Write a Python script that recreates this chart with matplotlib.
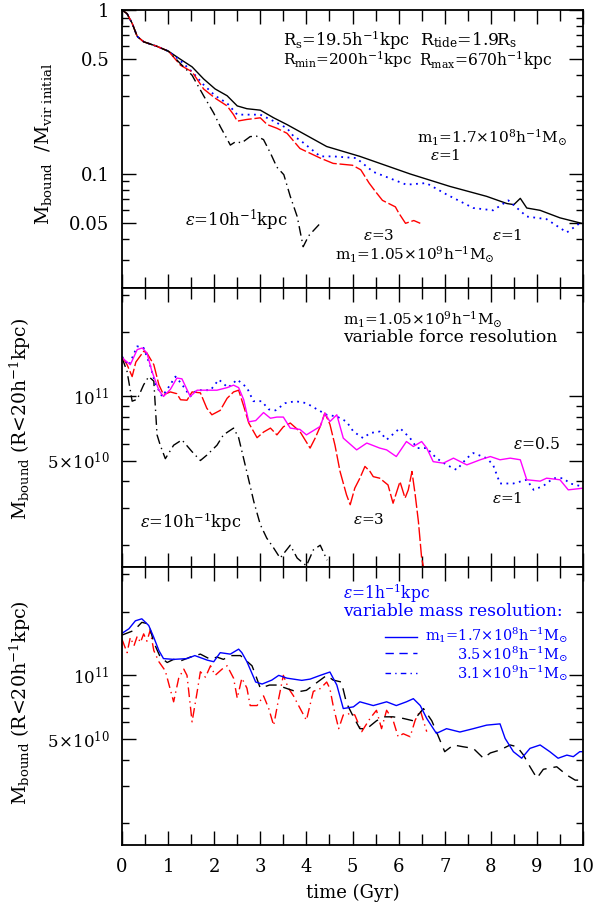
import numpy as np
import matplotlib
matplotlib.use('Agg')
import matplotlib.pyplot as plt
from matplotlib.ticker import FixedLocator, FixedFormatter, NullFormatter

plt.rcParams['font.family'] = ['DejaVu Serif']
plt.rcParams['mathtext.fontset'] = 'dejavuserif'

# ---------------- top panel: M_bound / M_vir initial ----------------
top_solid_t = [0, 0.11, 0.22, 0.33, 0.47, 0.76, 1.01, 1.27, 1.52, 1.77, 2.02, 2.28, 2.5, 2.71, 3.0,
               3.29, 3.58, 3.86, 4.44, 5.16, 6.25, 7.11, 7.91, 8.35, 8.5, 8.64, 8.78, 9.07, 9.5, 9.97]
top_solid_v = [1.0, 0.95, 0.83, 0.69, 0.64, 0.60, 0.56, 0.50, 0.45, 0.38, 0.33, 0.30, 0.26, 0.25, 0.245,
               0.22, 0.20, 0.181, 0.147, 0.128, 0.10, 0.084, 0.073, 0.066, 0.065, 0.071, 0.062, 0.06, 0.054, 0.05]

top_dot_t = [0, 0.11, 0.22, 0.33, 0.47, 0.76, 1.01, 1.27, 1.52, 1.77, 2.02, 2.28, 2.5, 2.71, 3.0, 3.29,
             3.58, 3.72, 3.86, 4.3, 4.58, 5.08, 5.45, 6.17, 6.6, 7.04, 7.62, 8.05, 8.38, 8.78, 9.21, 9.65, 9.97]
top_dot_v = [1.0, 0.95, 0.83, 0.69, 0.64, 0.60, 0.56, 0.49, 0.42, 0.35, 0.30, 0.27, 0.23, 0.23, 0.23, 0.21,
             0.19, 0.17, 0.161, 0.128, 0.128, 0.125, 0.103, 0.086, 0.088, 0.075, 0.062, 0.06, 0.069, 0.055, 0.053, 0.044, 0.051]

top_red_t = [0, 0.11, 0.22, 0.33, 0.47, 0.76, 1.01, 1.27, 1.52, 1.77, 2.02, 2.28, 2.42, 2.5, 2.71, 3.0,
             3.15, 3.36, 3.58, 3.86, 4.3, 4.58, 5.0, 5.18, 5.36, 5.5, 5.65, 5.93, 6.0, 6.15, 6.33, 6.47]
top_red_v = [1.0, 0.95, 0.83, 0.69, 0.64, 0.60, 0.56, 0.46, 0.42, 0.33, 0.29, 0.26, 0.23, 0.21, 0.215, 0.22,
             0.20, 0.19, 0.177, 0.143, 0.125, 0.116, 0.113, 0.106, 0.088, 0.078, 0.069, 0.063, 0.058, 0.05, 0.052, 0.05]

top_dd_t = [0, 0.11, 0.22, 0.33, 0.47, 0.76, 1.01, 1.27, 1.52, 1.77, 1.99, 2.13, 2.35, 2.46, 2.6, 2.78,
            2.92, 3.07, 3.22, 3.36, 3.51, 3.65, 3.8, 3.93, 4.05, 4.3]
top_dd_v = [1.0, 0.95, 0.83, 0.69, 0.64, 0.60, 0.56, 0.47, 0.40, 0.30, 0.235, 0.195, 0.15, 0.157, 0.155, 0.169,
            0.17, 0.162, 0.134, 0.11, 0.099, 0.073, 0.055, 0.036, 0.042, 0.05]

# ---------------- middle panel (units of 1e11) ----------------
mid_dd_t = [0, 0.11, 0.22, 0.33, 0.47, 0.58, 0.69, 0.76, 0.83, 0.94, 1.12, 1.3, 1.52, 1.7, 1.84, 2.06,
            2.2, 2.42, 2.53, 2.71, 2.86, 3.0, 3.14, 3.29, 3.43, 3.65, 3.8, 4.0, 4.15, 4.3, 4.45]
mid_dd_v = [1.52, 1.31, 0.95, 0.97, 1.135, 1.24, 1.18, 0.66, 0.59, 0.51, 0.59, 0.625, 0.55, 0.50, 0.53, 0.59,
            0.66, 0.71, 0.64, 0.44, 0.32, 0.25, 0.216, 0.194, 0.174, 0.20, 0.174, 0.16, 0.19, 0.2, 0.17]

mid_red_t = [0, 0.11, 0.22, 0.3, 0.47, 0.54, 0.69, 0.8, 0.9, 1.05, 1.19, 1.27, 1.41, 1.52, 1.7, 1.84, 1.95,
             2.13, 2.28, 2.42, 2.53, 2.64, 2.75, 2.93, 3.07, 3.22, 3.36, 3.5, 3.65, 3.86, 4.08, 4.19, 4.3,
             4.4, 4.51, 4.62, 4.73, 4.87, 4.95, 5.05, 5.16, 5.27, 5.38, 5.45, 5.59, 5.77, 5.88, 6.03, 6.14,
             6.21, 6.29, 6.36, 6.43, 6.5, 6.56]
mid_red_v = [1.54, 1.41, 1.24, 1.45, 1.63, 1.6, 1.41, 1.135, 1.02, 1.05, 1.03, 0.965, 0.96, 1.05, 1.04, 0.88, 0.82,
             0.86, 0.98, 1.05, 1.07, 0.9, 0.75, 0.64, 0.68, 0.71, 0.66, 0.72, 0.75, 0.684, 0.572, 0.637, 0.723,
             0.835, 0.74, 0.59, 0.444, 0.345, 0.31, 0.371, 0.413, 0.469, 0.444, 0.42, 0.413, 0.384, 0.315, 0.398, 0.333,
             0.364, 0.444, 0.345, 0.258, 0.174, 0.15]

mid_mag_t = [0, 0.18, 0.33, 0.44, 0.54, 0.65, 0.8, 0.9, 1.05, 1.19, 1.3, 1.48, 1.63, 1.84, 2.06, 2.28, 2.42,
             2.53, 2.64, 2.75, 2.9, 3.07, 3.22, 3.36, 3.5, 3.65, 3.86, 4.0, 4.3, 4.4, 4.51, 4.66, 4.8, 5.09,
             5.31, 5.59, 5.74, 5.95, 6.17, 6.32, 6.5, 6.61, 6.75, 6.97, 7.19, 7.48, 7.77, 7.99, 8.2, 8.42,
             8.64, 8.78, 9.07, 9.21, 9.5, 9.68, 9.97]
mid_mag_v = [1.52, 1.41, 1.66, 1.69, 1.6, 1.31, 1.07, 1.0, 1.08, 1.22, 1.21, 1.0, 1.07, 1.07, 1.07, 1.1, 1.13,
             1.1, 0.965, 0.76, 0.77, 0.84, 0.79, 0.80, 0.80, 0.71, 0.70, 0.66, 0.723, 0.835, 0.762, 0.82, 0.637, 0.561,
             0.604, 0.572, 0.561, 0.522, 0.614, 0.582, 0.614, 0.572, 0.494, 0.486, 0.513, 0.477, 0.504, 0.522, 0.504, 0.513,
             0.504, 0.406, 0.40, 0.413, 0.406, 0.364, 0.37]

mid_dot_t = [0, 0.15, 0.33, 0.47, 0.62, 0.72, 0.87, 0.98, 1.16, 1.3, 1.48, 1.62, 1.8, 1.92, 2.1, 2.3,
             2.5, 2.71, 2.85, 3.03, 3.18, 3.33, 3.54, 3.76, 4.0, 4.23, 4.44, 4.66, 4.87, 5.02,
             5.23, 5.38, 5.59, 5.74, 6.03, 6.25, 6.4, 6.61, 6.82, 7.04, 7.26, 7.48, 7.62, 7.91, 8.05, 8.2,
             8.49, 8.78, 8.93, 9.14, 9.36, 9.57, 9.72, 9.97]
mid_dot_v = [1.54, 1.4, 1.72, 1.69, 1.38, 1.15, 1.0, 1.08, 1.24, 1.14, 1.0, 1.07, 1.07, 1.07, 1.2, 1.1,
             1.2, 1.1, 0.95, 0.95, 0.87, 0.86, 0.93, 0.95, 0.93, 0.87, 0.82, 0.805, 0.762, 0.684,
             0.637, 0.673, 0.684, 0.626, 0.71, 0.637, 0.572, 0.572, 0.513, 0.477, 0.452, 0.513, 0.542, 0.513, 0.477, 0.39,
             0.39, 0.406, 0.364, 0.38, 0.413, 0.413, 0.39, 0.378]

# ---------------- bottom panel (units of 1e11) ----------------
bot_blue_t = [0, 0.15, 0.29, 0.43, 0.58, 0.69, 0.8, 0.9, 1.12, 1.41, 1.58, 1.85, 1.99, 2.13, 2.35, 2.53,
              2.6, 2.71, 2.9, 3.04, 3.25, 3.4, 3.58, 3.9, 4.08, 4.3, 4.51, 4.66, 4.8, 5.02, 5.16, 5.45,
              5.74, 5.95, 6.17, 6.32, 6.47, 6.61, 6.82, 7.04, 7.33, 7.62, 7.91, 8.2, 8.31, 8.49, 8.67, 8.85,
              9.07, 9.28, 9.46, 9.65, 9.79, 9.93, 10.0]
bot_blue_v = [1.58, 1.66, 1.81, 1.85, 1.72, 1.51, 1.31, 1.2, 1.19, 1.2, 1.24, 1.18, 1.16, 1.28, 1.26, 1.33,
              1.28, 1.16, 0.93, 0.91, 0.95, 1.0, 0.97, 0.947, 0.96, 1.0, 1.037, 0.9, 0.697, 0.71, 0.75, 0.72,
              0.75, 0.72, 0.75, 0.776, 0.72, 0.626, 0.532, 0.56, 0.54, 0.56, 0.582, 0.59, 0.504, 0.436, 0.406, 0.452,
              0.469, 0.436, 0.406, 0.42, 0.413, 0.436, 0.436]

bot_dash_t = [0, 0.26, 0.43, 0.58, 0.69, 0.83, 0.98, 1.12, 1.27, 1.48, 1.7, 1.92, 2.06, 2.2, 2.35, 2.57,
              2.82, 2.9, 3.0, 3.2, 3.36, 3.58, 3.8, 4.0, 4.3, 4.44, 4.58, 4.76, 4.87, 5.02, 5.16, 5.31,
              5.52, 5.67, 5.88, 6.1, 6.32, 6.54, 6.72, 6.82, 7.0, 7.19, 7.4, 7.62, 7.84, 7.99, 8.2, 8.42,
              8.57, 8.71, 8.85, 9.0, 9.14, 9.43, 9.65, 9.83, 10.0]
bot_dash_v = [1.55, 1.63, 1.78, 1.75, 1.43, 1.22, 1.15, 1.19, 1.17, 1.22, 1.26, 1.19, 1.22, 1.19, 1.24, 1.24,
              1.11, 1.0, 0.87, 0.9, 0.9, 0.866, 0.835, 0.85, 0.95, 1.0, 0.95, 0.93, 0.74, 0.637, 0.56, 0.56,
              0.61, 0.637, 0.637, 0.626, 0.61, 0.697, 0.61, 0.542, 0.436, 0.469, 0.46, 0.452, 0.406, 0.43, 0.444, 0.469,
              0.46, 0.42, 0.37, 0.327, 0.36, 0.37, 0.338, 0.32, 0.32]

bot_red_t = [0, 0.11, 0.18, 0.26, 0.33, 0.4, 0.47, 0.54, 0.61, 0.69, 0.8, 0.94, 1.01, 1.12, 1.23, 1.34,
             1.41, 1.52, 1.63, 1.7, 1.81, 1.92, 2.02, 2.17, 2.28, 2.42, 2.5, 2.6, 2.71, 2.78, 2.93, 3.07,
             3.18, 3.29, 3.4, 3.5, 3.61, 3.72, 3.83, 4.0, 4.15, 4.3, 4.44, 4.51, 4.58, 4.7, 4.8, 4.95,
             5.05, 5.2, 5.38, 5.52, 5.63, 5.74, 5.88, 5.99, 6.1, 6.25, 6.36, 6.47, 6.61]
bot_red_v = [1.48, 1.28, 1.51, 1.38, 1.53, 1.43, 1.57, 1.45, 1.63, 1.31, 1.16, 1.05, 0.92, 0.75, 0.97, 1.07,
             1.0, 0.603, 0.835, 1.04, 0.98, 1.11, 1.0, 1.07, 1.11, 0.97, 0.78, 0.97, 0.87, 0.72, 0.72, 0.8,
             0.7, 0.58, 0.78, 1.0, 0.87, 0.8, 0.72, 0.614, 0.84, 0.866, 0.93, 0.866, 0.72, 0.56, 0.65, 0.66,
             0.65, 0.542, 0.626, 0.684, 0.56, 0.684, 0.614, 0.513, 0.53, 0.513, 0.614, 0.684, 0.542]

x_ticks = [0, 1, 2, 3, 4, 5, 6, 7, 8, 9, 10]
top_major = [0.05, 0.1, 0.5, 1]
top_major_lbl = ['0.05', '0.1', '0.5', '1']
top_minor = [0.03, 0.04, 0.06, 0.07, 0.08, 0.09, 0.2, 0.3, 0.4, 0.6, 0.7, 0.8, 0.9]
mass_major = [5e10, 1e11]
mass_major_lbl = [r'$5\!\times\!10^{10}$', r'$10^{11}$']
mass_minor = [2e10, 3e10, 4e10, 6e10, 7e10, 8e10, 9e10, 2e11, 3e11]

SCALE = 1e11

W_PX, H_PX = 597, 906
fig = plt.figure(figsize=(W_PX / 100, H_PX / 100), dpi=100)
L, R = 122 / W_PX, 583 / W_PX
def fy(px):
    return 1 - px / H_PX
ax1 = fig.add_axes([L, fy(287.5), R - L, (287.5 - 10) / H_PX])
ax2 = fig.add_axes([L, fy(567), R - L, (567 - 287.5) / H_PX])
ax3 = fig.add_axes([L, fy(845), R - L, (845 - 567) / H_PX])

LW = 1.0
DOT = (0, (1, 2.5))
DASH_LONG = (0, (10, 2))
DASHDOT = (0, (7, 3, 1, 3))
ax1.plot(top_solid_t, top_solid_v, color='black', lw=LW)
ax1.plot(top_dot_t, top_dot_v, color='blue', lw=1.3, ls=DOT)
ax1.plot(top_red_t, top_red_v, color='red', lw=LW, ls=DASH_LONG)
ax1.plot(top_dd_t, top_dd_v, color='black', lw=LW, ls=DASHDOT)

ax2.plot(mid_dd_t, np.array(mid_dd_v) * SCALE, color='black', lw=LW, ls=DASHDOT)
ax2.plot(mid_red_t, np.array(mid_red_v) * SCALE, color='red', lw=LW, ls=DASH_LONG)
ax2.plot(mid_dot_t, np.array(mid_dot_v) * SCALE, color='blue', lw=1.3, ls=DOT)
ax2.plot(mid_mag_t, np.array(mid_mag_v) * SCALE, color='#ff00ff', lw=LW)

ax3.plot(bot_red_t, np.array(bot_red_v) * SCALE, color='red', lw=LW, ls=DASHDOT)
ax3.plot(bot_dash_t, np.array(bot_dash_v) * SCALE, color='black', lw=LW, ls=(0, (8, 5)))
ax3.plot(bot_blue_t, np.array(bot_blue_v) * SCALE, color='blue', lw=LW)

FS = 13
for ax in (ax1, ax2, ax3):
    ax.set_xlim(0, 10)
    ax.set_yscale('log')
    for s in ax.spines.values():
        s.set_linewidth(1.3)
    ax.xaxis.set_major_locator(FixedLocator(x_ticks))
    ax.xaxis.set_minor_locator(FixedLocator([x + 0.5 for x in x_ticks[:-1]]))
    ax.tick_params(which='both', direction='in', top=True, right=True, width=1.0, labelsize=FS)
    ax.tick_params(which='major', length=10, pad=9)
    ax.tick_params(which='minor', length=5)
    ax.tick_params(axis='x', which='minor', length=8)

ax1.set_ylim(0.0203, 1)
ax1.yaxis.set_major_locator(FixedLocator(top_major))
ax1.yaxis.set_major_formatter(FixedFormatter(top_major_lbl))
ax1.yaxis.set_minor_locator(FixedLocator(top_minor))
ax1.yaxis.set_minor_formatter(NullFormatter())
for ax in (ax2, ax3):
    ax.set_ylim(1.58e10, 3.25e11)
    ax.yaxis.set_major_locator(FixedLocator(mass_major))
    ax.yaxis.set_major_formatter(FixedFormatter(mass_major_lbl))
    ax.yaxis.set_minor_locator(FixedLocator(mass_minor))
    ax.yaxis.set_minor_formatter(NullFormatter())
    ax.tick_params(axis='y', which='major', labelsize=12)
for ax in (ax1, ax2):
    ax.tick_params(axis='x', labelbottom=False)
ax3.set_xticklabels([str(x) for x in x_ticks])

fig.canvas.draw()
renderer = fig.canvas.get_renderer()

def fit_text(x0, x1, yc, s, color='black', anchor='left', fs_min=11.0, fs_max=12.3):
    t = fig.text(0, fy(yc), s, ha=anchor, va='center', fontsize=12, color=color)
    for _ in range(3):
        w = t.get_window_extent(renderer).width
        fs = t.get_fontsize() * (x1 - x0) / w
        t.set_fontsize(min(max(fs, fs_min), fs_max))
    xa = {'left': x0, 'right': x1, 'center': 0.5 * (x0 + x1)}[anchor]
    t.set_x(xa / W_PX)
    return t

def fit_vlabel(xc, y0, y1, s, fs0=14):
    t = fig.text(xc / W_PX, fy((y0 + y1) / 2), s, rotation=90, ha='center', va='center', fontsize=fs0)
    for _ in range(3):
        h = t.get_window_extent(renderer).height
        t.set_fontsize(t.get_fontsize() * (y1 - y0) / h)
    return t

# axis labels
fit_vlabel(44, 63, 225, r'M$_{\rm bound}$  /M$_{\rm vir\ initial}$')
fit_vlabel(20, 318, 520, r'M$_{\rm bound}$ (R<20h$^{-1}$kpc)')
fit_vlabel(20, 600, 805, r'M$_{\rm bound}$ (R<20h$^{-1}$kpc)')
fig.text((L + R) / 2, fy(893), 'time (Gyr)', ha='center', va='center', fontsize=FS)

# top annotations
fit_text(283, 410, 40, r'R$_{\rm s}$=19.5h$^{-1}$kpc')
fit_text(420, 553, 40, r'R$_{\rm tide}$=1.9R$_{\rm s}$')
fit_text(283, 413, 60, r'R$_{\rm min}$=200h$^{-1}$kpc')
fit_text(420, 553, 60, r'R$_{\rm max}$=670h$^{-1}$kpc', anchor='right')
fit_text(422, 567, 138, r'm$_{1}$=1.7$\times$10$^{8}$h$^{-1}$M$_{\odot}$', anchor='right')
fit_text(430, 459, 155, r'$\epsilon$=1')
fit_text(185, 288, 220, r'$\epsilon$=10h$^{-1}$kpc')
fit_text(363, 392, 235, r'$\epsilon$=3')
fit_text(492, 520, 235, r'$\epsilon$=1')
fit_text(338, 492, 255, r'm$_{1}$=1.05$\times$10$^{9}$h$^{-1}$M$_{\odot}$', anchor='center')

# middle annotations
fit_text(343, 490, 320, r'm$_{1}$=1.05$\times$10$^{9}$h$^{-1}$M$_{\odot}$')
fit_text(343, 560, 338, 'variable force resolution')
fit_text(513, 560, 445, r'$\epsilon$=0.5')
fit_text(492, 520, 498, r'$\epsilon$=1')
fit_text(353, 383, 520, r'$\epsilon$=3')
fit_text(140, 242, 522, r'$\epsilon$=10h$^{-1}$kpc')

# bottom annotations (blue)
fit_text(343, 430, 593, r'$\epsilon$=1h$^{-1}$kpc', 'blue')
fit_text(343, 565, 612, 'variable mass resolution:', 'blue')
leg_y = [0.748, 0.689, 0.620]
leg_ls = ['-', (0, (6, 4)), (0, (4, 3, 1, 3))]
leg_txt = [r'm$_{1}$=1.7$\times$10$^{8}$h$^{-1}$M$_{\odot}$',
           r'3.5$\times$10$^{8}$h$^{-1}$M$_{\odot}$',
           r'3.1$\times$10$^{9}$h$^{-1}$M$_{\odot}$']
leg_x0 = [425, 457, 457]
leg_ypx = [635, 654, 673]
for yy, ls, s, x0, ypx in zip(leg_y, leg_ls, leg_txt, leg_x0, leg_ypx):
    ax3.plot([0.570, 0.640], [yy, yy], transform=ax3.transAxes, color='blue', lw=LW, ls=ls)
    fit_text(x0, 568, ypx, s, 'blue', anchor='right', fs_min=10.3, fs_max=11.5)

fig.savefig('out.png', dpi=100)
